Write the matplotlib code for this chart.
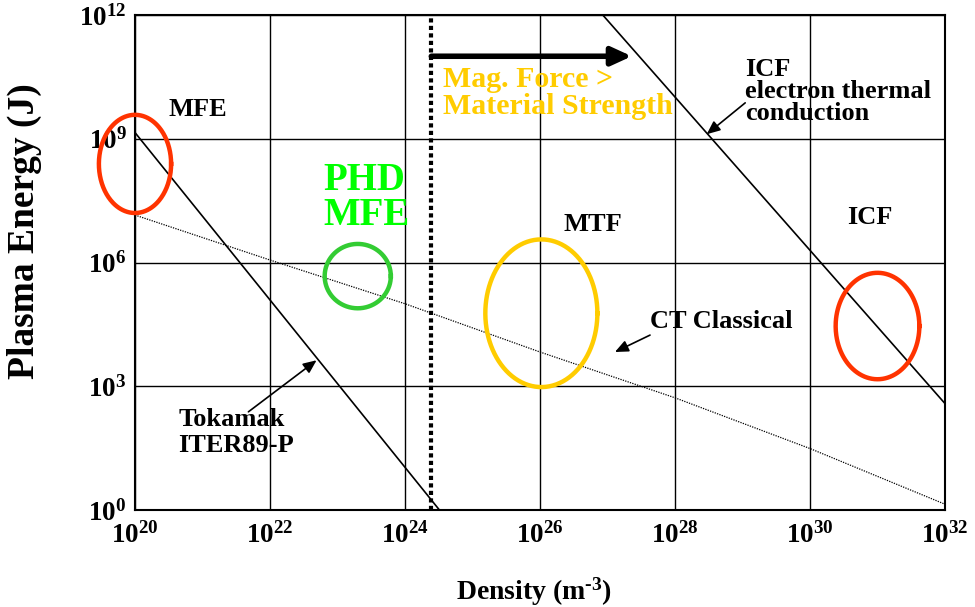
import numpy as np
import matplotlib
matplotlib.use("Agg")
import matplotlib.pyplot as plt

# --- data (log10 values) ---
tokamak_logn = [20.0, 24.51]
tokamak_logE = [9.15, 0.0]

ct_logn = [20, 22, 24, 26, 28, 30, 32]
ct_logE = [7.15, 6.06, 5.0, 3.83, 2.72, 1.49, 0.14]

icf_logn = [26.93, 32.0]
icf_logE = [12.0, 2.58]

mag_limit_logn = 24.39

# regions: name, centre (log n, log E), half-widths (decades), colour
region_names = ["MFE", "PHD MFE", "MTF", "ICF"]
region_cx = [20.0, 23.30, 26.02, 31.0]
region_cy = [8.39, 5.67, 4.77, 4.46]
region_rx = [0.535, 0.49, 0.83, 0.62]
region_ry = [1.19, 0.78, 1.79, 1.29]
region_col = ["#ff3300", "#33cc33", "#ffcc00", "#ff3300"]

x_ticks = [20, 22, 24, 26, 28, 30, 32]
y_ticks = [0, 3, 6, 9, 12]

plt.rcParams["font.family"] = ["Liberation Serif", "DejaVu Serif"]
plt.rcParams["font.weight"] = "bold"
plt.rcParams["mathtext.fontset"] = "custom"
plt.rcParams["mathtext.rm"] = "Liberation Serif:bold"
plt.rcParams["mathtext.it"] = "Liberation Serif:bold"
plt.rcParams["mathtext.bf"] = "Liberation Serif:bold"

fig = plt.figure(figsize=(9.75, 6.07), dpi=100)
ax = fig.add_axes([135/975, 1-510/607, 810/975, 495/607])
ax.set_xscale("log")
ax.set_yscale("log")
ax.set_xlim(1e20, 1e32)
ax.set_ylim(1, 1e12)

ax.set_xticks([10.0**t for t in x_ticks])
ax.set_xticklabels([rf"$10^{{{t}}}$" for t in x_ticks])
ax.set_yticks([10.0**t for t in y_ticks])
ax.set_yticklabels([rf"$10^{{{t}}}$" for t in y_ticks])
ax.minorticks_off()
ax.tick_params(length=0, labelsize=19.5)
ax.tick_params(axis="y", pad=6)
ax.tick_params(axis="x", pad=9)
ax.grid(True, color="black", lw=1.0)
for s in ax.spines.values():
    s.set_linewidth(1.5)

p = lambda v: [10.0**a for a in v]

ax.plot(p(tokamak_logn), p(tokamak_logE), color="black", lw=1.2)
ax.plot(p(ct_logn), p(ct_logE), color="black", lw=0.9, ls=(0, (1, 1)))
ax.plot(p(icf_logn), p(icf_logE), color="black", lw=1.2)
ax.plot([10.0**mag_limit_logn]*2, [1, 1e12], color="black", lw=3,
        ls=(0, (1, 0.8)), dash_capstyle="butt")

t = np.linspace(0, 2*np.pi, 300)
for cx, cy, rx, ry, c in zip(region_cx, region_cy, region_rx, region_ry, region_col):
    ax.plot(10.0**(cx + rx*np.cos(t)), 10.0**(cy + ry*np.sin(t)),
            color=c, lw=3.2, clip_on=False, zorder=5)

# thick arrow for magnetic force limit
ax.annotate("", xy=(10**27.36, 1e11), xytext=(10**mag_limit_logn, 1e11),
            arrowprops=dict(arrowstyle="-|>,head_length=1.2,head_width=0.55",
                            lw=4, color="black", shrinkA=0, shrinkB=0))

txt = dict(fontweight="bold", fontsize=19, color="black")
ax.text(10**20.93, 10**9.72, "MFE", ha="center", va="center", **txt)
ax.text(10**26.79, 10**6.93, "MTF", ha="center", va="center", **txt)
ax.text(10**30.89, 10**7.10, "ICF", ha="center", va="center", **txt)
ax.text(10**29.04, 10**10.15, "ICF\nelectron thermal\nconduction", ha="left",
        va="center", linespacing=0.95, **txt)
ax.text(10**27.63, 10**4.58, "CT Classical", ha="left", va="center", **txt)
ax.text(10**20.64, 10**1.88, "Tokamak\nITER89-P", ha="left", va="center",
        linespacing=1.15, **txt)
ax.text(10**22.785, 10**7.56, "PHD\nMFE", ha="left", va="center",
        fontsize=28, fontweight="bold", color="#00ff00", linespacing=0.95)
ax.text(10**24.56, 10**10.12, "Mag. Force >\nMaterial Strength", ha="left",
        va="center", fontsize=21.5, fontweight="bold", color="#ffcc00",
        linespacing=1.0)

thin = dict(arrowstyle="-|>,head_length=0.8,head_width=0.35", lw=1.2,
            color="black", shrinkA=0, shrinkB=0)
ax.annotate("", xy=(10**28.47, 10**9.11), xytext=(10**29.04, 10**9.87), arrowprops=thin)
ax.annotate("", xy=(10**27.11, 10**3.83), xytext=(10**27.63, 10**4.24), arrowprops=thin)
ax.annotate("", xy=(10**22.69, 10**3.63), xytext=(10**21.68, 10**2.38), arrowprops=thin)

fig.text(24.5/975, 1-231/607, "Plasma Energy (J)", rotation=90, ha="center",
         va="center", fontsize=27, fontweight="bold")
fig.text(534/975, 1-592/607, r"Density (m$^{\text{-}3}$)", ha="center",
         va="center", fontsize=20, fontweight="bold")

fig.savefig("out.png", dpi=100)
